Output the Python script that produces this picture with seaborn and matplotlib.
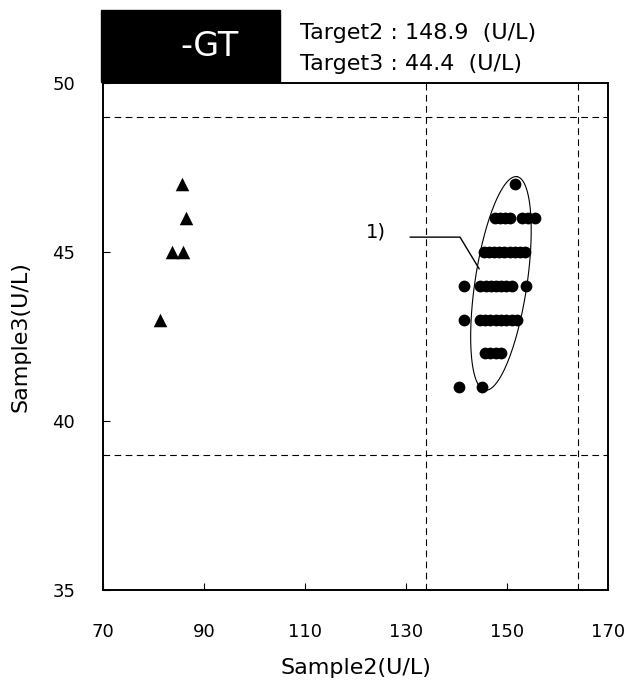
import numpy as np
import pandas as pd
import matplotlib
matplotlib.use("Agg")
import matplotlib.pyplot as plt
from matplotlib.patches import Rectangle
import seaborn as sns

# ---- data ----
tri_x = [85.7, 86.5, 83.7, 85.8, 81.3]
tri_y = [47, 46, 45, 45, 43]

dot_x = [151.6,
         147.6, 148.6, 149.6, 150.6, 153.0, 154.2, 155.5,
         145.4, 146.4, 147.4, 148.4, 149.5, 150.5, 151.5, 152.6, 153.6,
         141.5, 144.7, 145.8, 146.8, 147.8, 148.8, 149.9, 150.9, 153.7,
         141.5, 144.7, 145.7, 146.7, 147.8, 148.8, 149.8, 150.9, 151.9,
         145.6, 146.7, 147.8, 148.9,
         140.5, 145.0]
dot_y = [47,
         46, 46, 46, 46, 46, 46, 46,
         45, 45, 45, 45, 45, 45, 45, 45, 45,
         44, 44, 44, 44, 44, 44, 44, 44, 44,
         43, 43, 43, 43, 43, 43, 43, 43, 43,
         42, 42, 42, 42,
         41, 41]

ref_x = [134.0, 164.0]
ref_y = [39.0, 49.0]

x_ticks = [70, 90, 110, 130, 150, 170]
y_ticks = [35, 40, 45, 50]

title_box = "-GT"
target_lines = ["Target2 : 148.9  (U/L)", "Target3 : 44.4  (U/L)"]
x_label = "Sample2(U/L)"
y_label = "Sample3(U/L)"

# ellipse annotation (center, half-axis vectors in data units)
ell_center = (148.8, 44.07)
ell_major = (3.17, 3.16)
ell_minor = (5.09, -0.114)

leader_x = [130.8, 140.7, 144.5]
leader_y = [45.44, 45.44, 44.5]
leader_label = "1)"
leader_label_pos = (124.0, 45.6)

# ---- figure ----
sns.set_theme(style="white")
plt.rcParams['font.family'] = ['DejaVu Sans']
plt.rcParams['text.color'] = 'black'
plt.rcParams['axes.labelcolor'] = 'black'
plt.rcParams['xtick.color'] = 'black'
plt.rcParams['ytick.color'] = 'black'

fig = plt.figure(figsize=(6.3, 6.88), dpi=100)
ax = fig.add_axes([103/630, 1-590/688, (608-103)/630, (590-83)/688])

df_dots = pd.DataFrame({"x": dot_x, "y": dot_y})
df_tri = pd.DataFrame({"x": tri_x, "y": tri_y})

sns.scatterplot(data=df_dots, x="x", y="y", marker="o", s=72, color="black",
                edgecolor="black", linewidth=0, ax=ax, zorder=3)
sns.scatterplot(data=df_tri, x="x", y="y", marker="^", s=95, color="black",
                edgecolor="black", linewidth=0, ax=ax, zorder=3)

for v in ref_x:
    ax.axvline(v, color="black", lw=0.8, linestyle=(0, (6, 4)), zorder=1)
for v in ref_y:
    ax.axhline(v, color="black", lw=0.8, linestyle=(0, (6, 4)), zorder=1)

t = np.linspace(0, 2*np.pi, 200)
ex = ell_center[0] + ell_major[0]*np.cos(t) + ell_minor[0]*np.sin(t)
ey = ell_center[1] + ell_major[1]*np.cos(t) + ell_minor[1]*np.sin(t)
ax.plot(ex, ey, color="black", lw=0.8, zorder=2)

ax.plot(leader_x, leader_y, color="black", lw=1.0, zorder=2)
ax.text(leader_label_pos[0], leader_label_pos[1], leader_label, fontsize=14,
        ha="center", va="center", color="black")

ax.set_xlim(70, 170)
ax.set_ylim(35, 50)
ax.set_xticks(x_ticks)
ax.set_yticks(y_ticks)
ax.tick_params(axis="both", direction="in", length=5, width=0.8, labelsize=13,
               colors="black")
ax.tick_params(axis="x", pad=24)
ax.tick_params(axis="y", pad=20)
ax.xaxis.set_ticks_position("bottom")
ax.yaxis.set_ticks_position("left")
for sp in ax.spines.values():
    sp.set_visible(True)
    sp.set_color("black")
    sp.set_linewidth(1.4)

ax.set_xlabel(x_label, fontsize=16, labelpad=12, color="black")
ax.set_ylabel(y_label, fontsize=16, labelpad=16, color="black")

# header box and texts
fig.patches.append(Rectangle((101/630, 1-82/688), (280-101)/630, 72/688,
                             transform=fig.transFigure, facecolor="black",
                             edgecolor="black", zorder=5))
fig.text(210/630, 1-47/688, title_box, color="white", fontsize=24,
         ha="center", va="center", zorder=6)
fig.text(300/630, 1-33/688, target_lines[0], fontsize=16, ha="left",
         va="center", color="black")
fig.text(300/630, 1-64/688, target_lines[1], fontsize=16, ha="left",
         va="center", color="black")

fig.savefig("out.png", dpi=100)
